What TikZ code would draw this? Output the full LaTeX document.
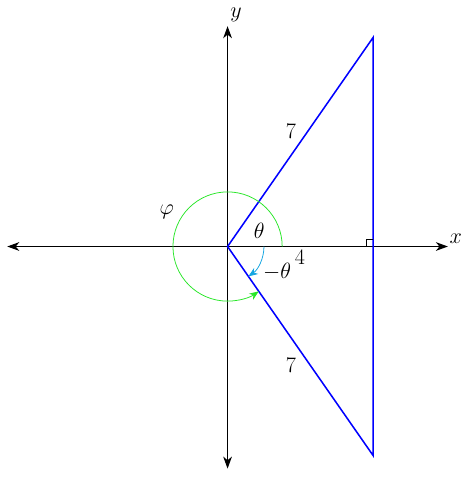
\documentclass[tikz,border=0pt]{standalone}
\usetikzlibrary{arrows.meta}
\definecolor{arccyan}{RGB}{20,165,225}
\definecolor{arcgreen}{RGB}{40,230,40}
\begin{document}
\begin{tikzpicture}[
  axis/.style={black, line width=0.9pt, {Stealth[length=3.3mm,width=2.4mm,inset=1mm]}-{Stealth[length=3.3mm,width=2.4mm,inset=1mm]}},
  side/.style={blue, line width=1.2pt, line join=miter},
  arcline/.style={line width=0.6pt, -{Stealth[length=2.6mm,width=2mm,inset=0.8mm]}},
  lbl/.style={font=\fontsize{16.5}{20}\selectfont, inner sep=1pt},
]
\useasboundingbox (-6.25,-6.44) rectangle (6.77,6.77);
\coordinate (O) at (0,0);
\coordinate (xl) at (-6.05,0);
\coordinate (xr) at (6.05,0);
\coordinate (yb) at (0,-6.1);
\coordinate (yt) at (0,6.05);
\draw[axis] (xl) -- (xr);
\draw[axis] (yb) -- (yt);
\node[lbl] (xlab) at (6.27,0.2) {$x$};
\node[lbl] (ylab) at (0.23,6.36) {$y$};
% triangle
\coordinate (A) at (4,{sqrt(33)});
\coordinate (B) at (4,{-sqrt(33)});
\coordinate (F) at (4,0);
\draw[side] (O) -- (A) -- (B) -- cycle;
% right angle mark
\draw[line width=0.5pt] ([xshift=-2mm]F) -- ++(0,0.2) -- ++(0.2,0);
% arcs
\draw[arcgreen, arcline] (1.5,0) arc[start angle=0, end angle=304.85, radius=1.5];
\draw[arccyan, arcline] (1,0) arc[start angle=0, end angle=-55.15, radius=1];
% labels
\node[lbl] (l7a) at (1.74,3.17) {$7$};
\node[lbl] (l7b) at (1.74,-3.27) {$7$};
\node[lbl] (l4) at (1.99,-0.29) {$4$};
\node[lbl] (th) at (0.87,0.43) {$\theta$};
\node[lbl] (mth) at (1.36,-0.70) {$-\theta$};
\node[lbl] (ph) at (-1.67,0.94) {$\varphi$};
\end{tikzpicture}
\end{document}
